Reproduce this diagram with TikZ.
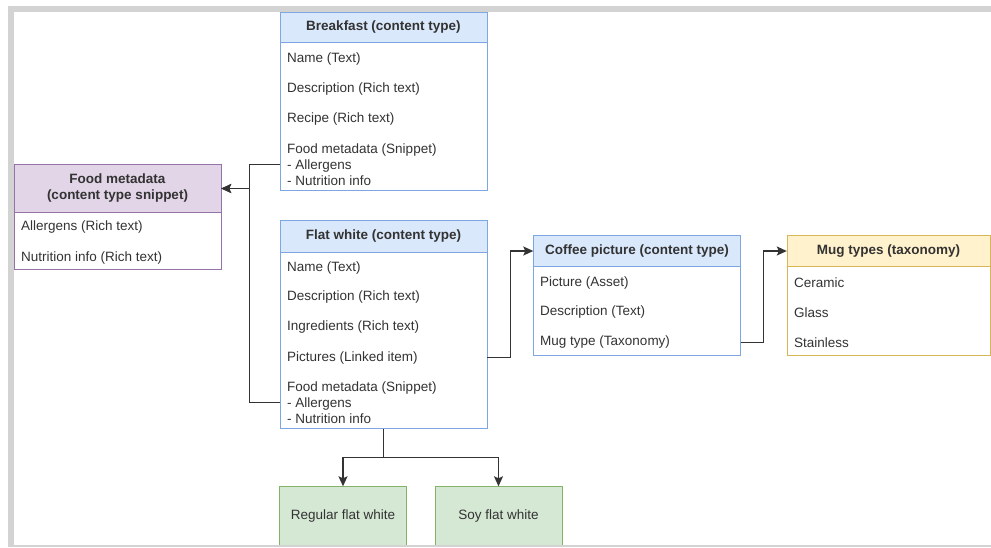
\documentclass[tikz,border=0pt]{standalone}
\usepackage{fontspec}
\setmainfont{Liberation Sans}
\usetikzlibrary{arrows.meta}
\definecolor{frameGray}{HTML}{D3D3D3}
\definecolor{txtGray}{HTML}{333333}
\definecolor{blueFill}{HTML}{DAE8FC}
\definecolor{blueLine}{HTML}{7EA6E0}
\definecolor{purpleFill}{HTML}{E1D5E7}
\definecolor{purpleLine}{HTML}{9673A6}
\definecolor{yellowFill}{HTML}{FFF2CC}
\definecolor{yellowLine}{HTML}{D6B656}
\definecolor{greenFill}{HTML}{D5E8D4}
\definecolor{greenLine}{HTML}{82B366}
\begin{document}
\begin{tikzpicture}[x=1pt, y=-1pt,
  hdr/.style={draw, minimum width=207pt, minimum height=30pt, inner sep=0pt,
    align=center, text=txtGray, font=\bfseries\fontsize{13.5}{16}\selectfont},
  body/.style={draw, fill=white, minimum width=207pt, inner sep=0pt},
  row/.style={anchor=west, inner sep=0pt, align=left, text=txtGray,
    font=\fontsize{13.5}{16}\selectfont},
  leaf/.style={draw=greenLine, fill=greenFill, minimum width=127pt,
    minimum height=60pt, text=txtGray, font=\fontsize{13.5}{16}\selectfont},
  link/.style={draw=txtGray, line width=1.3pt, -{Stealth[length=10pt,width=9pt,inset=2pt]}}]
\useasboundingbox (0,0) rectangle (991,547);
\fill[white] (0,0) rectangle (991,547);

% Breakfast
\node[hdr, draw=blueLine, fill=blueFill] (bkHdr) at (383.5,27) {Breakfast (content type)};
\node[body, draw=blueLine, minimum height=148pt] (bkBody) at (383.5,116) {};
\node[row] (bkName) at (287,59.5) {Name (Text)};
\node[row] (bkDesc) at (287,89.5) {Description (Rich text)};
\node[row] (bkRecipe) at (287,119.5) {Recipe (Rich text)};
\node[row] (bkSnip) at (287,164.5) {Food metadata (Snippet)\\- Allergens\\- Nutrition info};

% Food metadata snippet
\node[hdr, draw=purpleLine, fill=purpleFill, minimum height=49pt] (fmHdr) at (117.5,188.5)
  {Food metadata\\(content type snippet)};
\node[body, draw=purpleLine, minimum height=57pt] (fmBody) at (117.5,241) {};
\node[row] (fmAllerg) at (21,227.5) {Allergens (Rich text)};
\node[row] (fmNutri) at (21,257.5) {Nutrition info (Rich text)};

% Flat white
\node[hdr, draw=blueLine, fill=blueFill, minimum height=32pt] (fwHdr) at (383.5,236.5) {Flat white (content type)};
\node[body, draw=blueLine, minimum height=176pt] (fwBody) at (383.5,340.5) {};
\node[row] (fwName) at (287,267.5) {Name (Text)};
\node[row] (fwDesc) at (287,297.5) {Description (Rich text)};
\node[row] (fwIngr) at (287,327.5) {Ingredients (Rich text)};
\node[row] (fwPic) at (287,357.5) {Pictures (Linked item)};
\node[row] (fwSnip) at (287,402.5) {Food metadata (Snippet)\\- Allergens\\- Nutrition info};

% Coffee picture
\node[hdr, draw=blueLine, fill=blueFill, minimum height=31pt] (cpHdr) at (637,251) {Coffee picture (content type)};
\node[body, draw=blueLine, minimum height=89pt] (cpBody) at (637,311) {};
\node[row] (cpPic) at (540,282.5) {Picture (Asset)};
\node[row] (cpDesc) at (540,312.5) {Description (Text)};
\node[row] (cpMug) at (540,342.5) {Mug type (Taxonomy)};

% Mug types
\node[hdr, draw=yellowLine, fill=yellowFill, minimum width=203pt, minimum height=31pt] (mtHdr) at (888.5,251) {Mug types (taxonomy)};
\node[body, draw=yellowLine, minimum width=203pt, minimum height=89pt] (mtBody) at (888.5,311) {};
\node[row] (mtCer) at (794,282.5) {Ceramic};
\node[row] (mtGlass) at (794,312.5) {Glass};
\node[row] (mtStain) at (794,342.5) {Stainless};

% variants
\node[leaf] (fwReg) at (343,516.5) {Regular flat white};
\node[leaf] (fwSoy) at (498.5,516.5) {Soy flat white};

% connectors
\draw[link] (bkSnip -| bkBody.west) -- ++(-30,0) |- (fmHdr.east);
\draw[link] (fwSnip -| fwBody.west) -- ++(-30,0) |- (fmHdr.east);
\draw[link] (fwPic -| fwBody.east) -- ++(23,0) |- (cpHdr.west);
\draw[link] (cpMug -| cpBody.east) -- ++(23,0) |- (mtHdr.west);
\draw[link] (fwBody.south) -- ++(0,29) -| (fwReg.north);
\draw[link] (fwBody.south) -- ++(0,29) -| (fwSoy.north);

% frame
\fill[frameGray] (8,6) rectangle (991,12);
\fill[frameGray] (8,6) rectangle (14,547);
\fill[frameGray] (14,545) rectangle (991,547);
\end{tikzpicture}
\end{document}
